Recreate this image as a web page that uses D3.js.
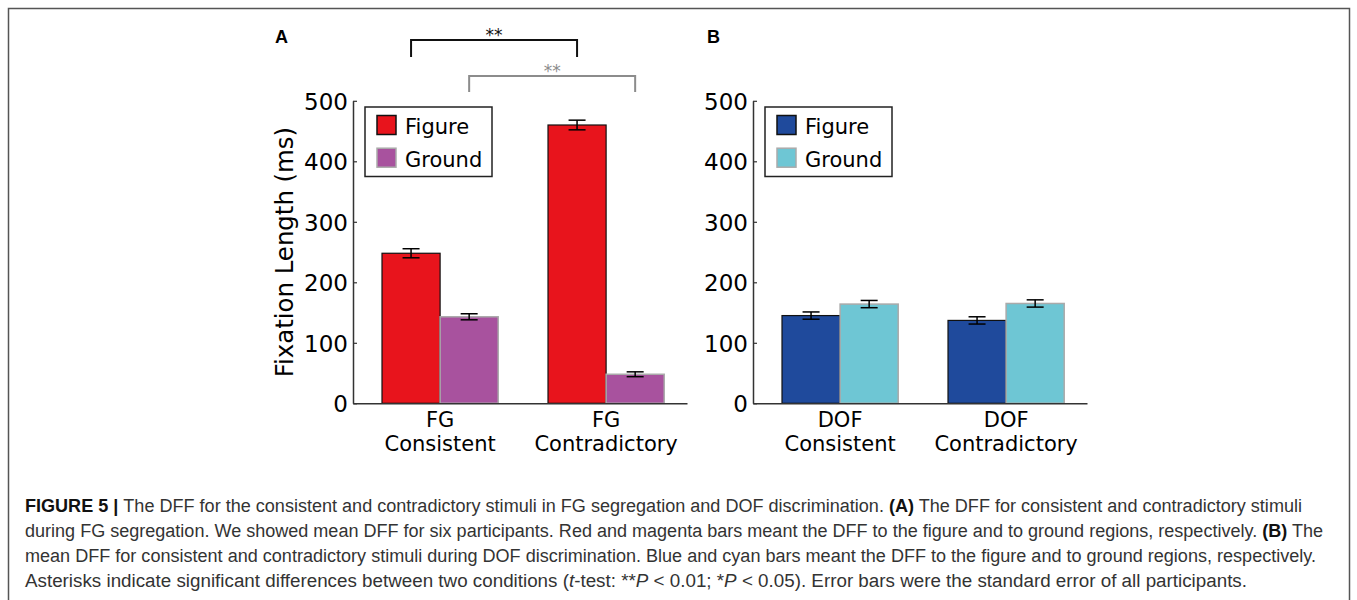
<!DOCTYPE html>
<html>
<head>
<meta charset="utf-8">
<script src="https://cdn.jsdelivr.net/npm/d3@7"></script>
<style>
  html, body { margin: 0; padding: 0; background: #fff; }
  svg { display: block; }
  .dv { font-family: "DejaVu Sans", sans-serif; }
</style>
</head>
<body>
<svg id="chart" width="1357" height="600"></svg>
<script>
// ---------------- data ----------------
const seriesNames = ["Figure", "Ground"];
const yTicks = [0, 100, 200, 300, 400, 500];

const categoriesA = ["FG Consistent", "FG Contradictory"];
const categoryLinesA = [["FG", "Consistent"], ["FG", "Contradictory"]];
const figureA = [248, 460];
const groundA = [143, 48];
const figureErrA = [7.5, 8];
const groundErrA = [5, 4];
const coloursA = ["#e8141c", "#a8529e"];

const categoriesB = ["DOF Consistent", "DOF Contradictory"];
const categoryLinesB = [["DOF", "Consistent"], ["DOF", "Contradictory"]];
const figureB = [145, 137];
const groundB = [164, 165];
const figureErrB = [6, 6];
const groundErrB = [6, 6];
const coloursB = ["#1f4a9c", "#6ec6d4"];

const yLabel = "Fixation Length (ms)";
const sigLabel = "**";

const captionLines = [
  [["FIGURE 5 | ", "b"], ["The DFF for the consistent and contradictory stimuli in FG segregation and DOF discrimination. ", ""], ["(A)", "b"], [" The DFF for consistent and contradictory stimuli", ""]],
  [["during FG segregation. We showed mean DFF for six participants. Red and magenta bars meant the DFF to the figure and to ground regions, respectively. ", ""], ["(B)", "b"], [" The", ""]],
  [["mean DFF for consistent and contradictory stimuli during DOF discrimination. Blue and cyan bars meant the DFF to the figure and to ground regions, respectively.", ""]],
  [["Asterisks indicate significant differences between two conditions (", ""], ["t", "i"], ["-test: **", ""], ["P", "i"], [" < 0.01; *", ""], ["P", "i"], [" < 0.05). Error bars were the standard error of all participants.", ""]]
];
const captionWidths = [1277, 1298, 1291, 1222];

// ---------------- drawing ----------------
const svg = d3.select("#chart");

// outer frame
svg.append("rect")
  .attr("x", 8.5).attr("y", 8.5)
  .attr("width", 1341).attr("height", 620)
  .attr("fill", "none").attr("stroke", "#555").attr("stroke-width", 1.5);

const y = d3.scaleLinear().domain([0, 500]).range([403.3, 100.8]);

function drawPanel(opts) {
  const { ox, letter, letterX, categories, lines, fig, gnd, figErr, gndErr, colours, showYLabel } = opts;
  const axisX = 353 + ox, axisEnd = 687 + ox;
  const g = svg.append("g");

  const x = d3.scaleBand().domain(categories).range([axisX, axisEnd])
    .paddingInner(0.3).paddingOuter(0.156).align(0.56);
  const xs = d3.scaleBand().domain(seriesNames).range([0, x.bandwidth()]);

  const rows = [];
  categories.forEach((c, i) => {
    rows.push({ cat: c, s: "Figure", v: fig[i], e: figErr[i] });
    rows.push({ cat: c, s: "Ground", v: gnd[i], e: gndErr[i] });
  });
  const colour = d3.scaleOrdinal().domain(seriesNames).range(colours);
  const edge = d3.scaleOrdinal().domain(seriesNames).range(["#111", "#aaa"]);

  // bars
  g.selectAll("rect.bar").data(rows).join("rect")
    .attr("class", "bar")
    .attr("x", d => x(d.cat) + xs(d.s))
    .attr("width", xs.bandwidth())
    .attr("y", d => y(d.v))
    .attr("height", d => y(0) - y(d.v))
    .attr("fill", d => colour(d.s))
    .attr("stroke", d => edge(d.s))
    .attr("stroke-width", d => d.s === "Figure" ? 1.2 : 1.5);

  // error bars
  const cap = 8.5;
  const eb = g.selectAll("g.err").data(rows).join("g").attr("class", "err")
    .attr("stroke", "#000").attr("stroke-width", 1.5);
  const cx = d => x(d.cat) + xs(d.s) + xs.bandwidth() / 2;
  eb.append("line").attr("x1", cx).attr("x2", cx)
    .attr("y1", d => y(d.v + d.e)).attr("y2", d => y(d.v - d.e));
  eb.append("line").attr("x1", d => cx(d) - cap).attr("x2", d => cx(d) + cap)
    .attr("y1", d => y(d.v + d.e)).attr("y2", d => y(d.v + d.e));
  eb.append("line").attr("x1", d => cx(d) - cap).attr("x2", d => cx(d) + cap)
    .attr("y1", d => y(d.v - d.e)).attr("y2", d => y(d.v - d.e));

  // y axis
  const ya = g.append("g").attr("transform", `translate(${axisX},0)`)
    .call(d3.axisLeft(y).tickValues(yTicks).tickSizeInner(-4).tickSizeOuter(0).tickPadding(5));
  ya.select(".domain").attr("stroke", "#333").attr("stroke-width", 1.5);
  ya.selectAll(".tick line").attr("stroke", "#333").attr("stroke-width", 1.2);
  ya.selectAll(".tick text").attr("font-family", "DejaVu Sans, sans-serif").attr("font-size", 23)
    .attr("fill", "#000").attr("dy", "0.36em");

  // x axis
  const xa = g.append("g").attr("transform", `translate(0,${y(0)})`)
    .call(d3.axisBottom(x).tickSize(0).tickSizeOuter(0).tickFormat(""));
  xa.select(".domain").attr("stroke", "#333").attr("stroke-width", 1.5);
  xa.selectAll(".tick text").remove();
  categories.forEach((c, i) => {
    lines[i].forEach((ln, j) => {
      g.append("text").attr("class", "dv").attr("font-size", 21)
        .attr("text-anchor", "middle").attr("fill", "#000")
        .attr("x", x(c) + x.bandwidth() / 2).attr("y", 426.5 + j * 24.5)
        .text(ln);
    });
  });

  // y label
  if (showYLabel) {
    g.append("text")
      .attr("transform", `translate(${axisX - 60},${y(250)}) rotate(-90)`)
      .attr("text-anchor", "middle")
      .attr("font-family", "DejaVu Sans, sans-serif")
      .attr("font-size", 24.4).attr("fill", "#000")
      .text(yLabel);
  }

  // legend
  const lg = g.append("g").attr("transform", `translate(${axisX + 12},107)`);
  lg.append("rect").attr("x", 0).attr("y", 0).attr("width", 127).attr("height", 69.5)
    .attr("fill", "#fff").attr("stroke", "#222").attr("stroke-width", 1.5);
  seriesNames.forEach((s, i) => {
    lg.append("rect").attr("x", 12).attr("y", 8.5 + i * 32.7).attr("width", 19).attr("height", 19)
      .attr("fill", colour(s)).attr("stroke", edge(s)).attr("stroke-width", 1.5);
    lg.append("text").attr("class", "dv").attr("x", 40).attr("y", 26.8 + i * 32.7)
      .attr("font-size", 21).attr("fill", "#000").text(s);
  });

  // panel letter
  g.append("text").attr("x", letterX).attr("y", 42.5)
    .attr("font-family", "Liberation Sans, Arial, sans-serif").attr("font-weight", "bold")
    .attr("font-size", 18).attr("fill", "#000").text(letter);

  return { x, xs };
}

const pA = drawPanel({ ox: 0, letter: "A", letterX: 275, categories: categoriesA, lines: categoryLinesA,
  fig: figureA, gnd: groundA, figErr: figureErrA, gndErr: groundErrA, colours: coloursA, showYLabel: true });
drawPanel({ ox: 400, letter: "B", letterX: 707, categories: categoriesB, lines: categoryLinesB,
  fig: figureB, gnd: groundB, figErr: figureErrB, gndErr: groundErrB, colours: coloursB, showYLabel: false });

// significance brackets (panel A)
function bracket(series, top, bottom, colour, labelY) {
  const x1 = pA.x(categoriesA[0]) + pA.xs(series) + pA.xs.bandwidth() / 2;
  const x2 = pA.x(categoriesA[1]) + pA.xs(series) + pA.xs.bandwidth() / 2;
  svg.append("path")
    .attr("d", d3.line()([[x1, bottom], [x1, top], [x2, top], [x2, bottom]]))
    .attr("fill", "none").attr("stroke", colour).attr("stroke-width", 2);
  svg.append("text").attr("x", (x1 + x2) / 2).attr("y", labelY)
    .attr("text-anchor", "middle").attr("font-family", "DejaVu Sans, sans-serif")
    .attr("font-size", 17).attr("fill", colour).text(sigLabel);
}
bracket("Figure", 40, 57, "#111", 41);
bracket("Ground", 76, 92, "#8c8c8c", 77);

// caption
const cap = svg.append("g");
captionLines.forEach((parts, i) => {
  const t = cap.append("text")
    .attr("x", 25).attr("y", 512 + i * 25)
    .attr("font-family", "Liberation Sans Narrow, Liberation Sans, Arial, sans-serif")
    .attr("font-size", 18).attr("fill", "#333")
    .attr("textLength", captionWidths[i]).attr("lengthAdjust", "spacingAndGlyphs");
  parts.forEach(([txt, style]) => {
    const s = t.append("tspan").text(txt);
    if (style === "b") s.attr("font-weight", "bold").attr("fill", "#111");
    if (style === "i") s.attr("font-style", "italic");
  });
});
</script>
</body>
</html>
